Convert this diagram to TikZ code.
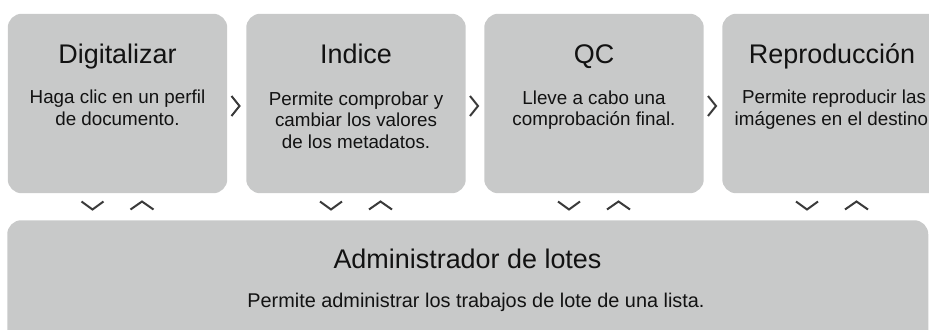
\documentclass[tikz,border=0pt]{standalone}
\usepackage{fontspec}
\setmainfont{Liberation Sans}
\usetikzlibrary{calc}
\definecolor{boxgray}{RGB}{200,201,201}
\definecolor{chev}{RGB}{58,58,58}
\definecolor{txt}{RGB}{18,18,18}
\begin{document}
\begin{tikzpicture}[x=0.75pt,y=-0.75pt,
  stage/.style={fill=boxgray, rounded corners=10.5pt, inner sep=0pt,
    minimum width=164.6pt, minimum height=134.6pt, anchor=north west},
  ttl/.style={font=\fontsize{20.2}{24}\selectfont, text=txt, anchor=base, inner sep=0pt},
  body/.style={font=\fontsize{14.1}{16}\selectfont, text=txt, anchor=base,
    inner sep=0pt, align=center},
  chevr/.style={draw=chev, line width=1.5pt}]
\useasboundingbox (0,0) rectangle (929,329);
\clip (0,0) rectangle (929,329);
% boxes
\node[stage] (b1) at (7.5,13.5) {};
\node[stage] (b2) at (246,13.5) {};
\node[stage] (b3) at (484,13.5) {};
\node[stage] (b4) at (722,13.5) {};
\node[stage, minimum width=690.75pt, minimum height=97.5pt] (lotes) at (7,220) {};
% titles
\node[ttl] (t1) at ($(b1.north)+(0,49.5)$) {Digitalizar};
\node[ttl] (t2) at ($(b2.north)+(0,49.5)$) {Indice};
\node[ttl] (t3) at ($(b3.north)+(0,49.5)$) {QC};
\node[ttl] (t4) at ($(b4.north)+(0,49.5)$) {Reproducción};
\node[ttl] (t5) at (467.5,268) {Administrador de lotes};
% bodies (base = baseline of last line)
\node[body] (d1) at ($(b1.north)+(0,111.5)$) {Haga clic en un perfil\\de documento.};
\node[body] (d2) at ($(b2.north)+(0,134.5)$) {Permite comprobar y\\cambiar los valores\\de los metadatos.};
\node[body] (d3) at ($(b3.north)+(0,112)$) {Lleve a cabo una\\comprobación final.};
\node[body] (d4) at ($(b4.north)+(2,111.5)$) {Permite reproducir las\\imágenes en el destino.};
\node[body, font=\fontsize{14.9}{16}\selectfont] (d5) at (476,307) {Permite administrar los trabajos de lote de una lista.};
% right chevrons between stages
\foreach \b in {b1,b2,b3}{
  \draw[chevr] ($(\b.north east)+(4,82.5)$) -- ($(\b.north east)+(12,92.5)$) -- ($(\b.north east)+(4,102.5)$);
}
% down / up chevrons
\foreach \b in {b1,b2,b3,b4}{
  \draw[chevr] ($(\b.south)+(-36,8)$) -- ($(\b.south)+(-25,16)$) -- ($(\b.south)+(-14,8)$);
  \draw[chevr] ($(\b.south)+(13,16)$) -- ($(\b.south)+(24.5,8)$) -- ($(\b.south)+(36,16)$);
}
\end{tikzpicture}
\end{document}
